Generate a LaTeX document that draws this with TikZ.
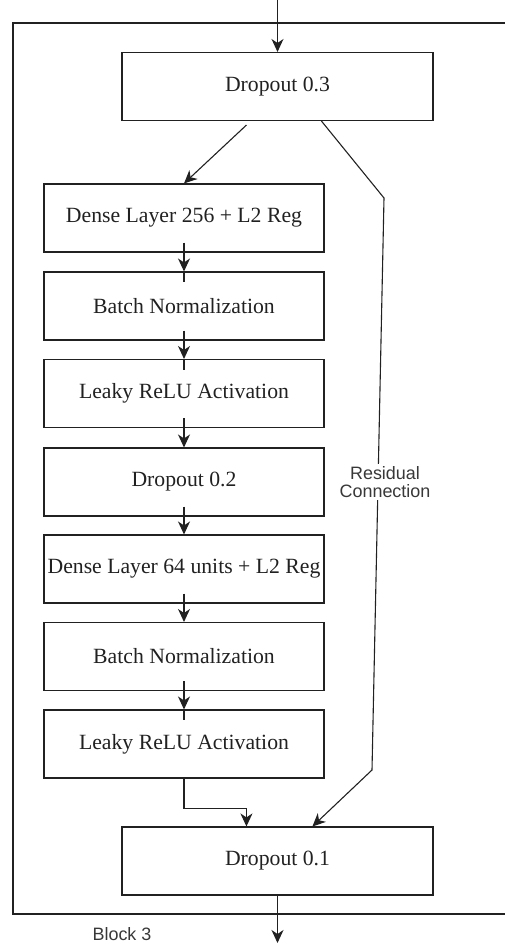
\documentclass[tikz,border=0pt]{standalone}
\usepackage{fontspec}
\setmainfont{Liberation Serif}
\newfontfamily\labelfont{Liberation Sans}
\usetikzlibrary{arrows.meta,calc}
\definecolor{ink}{gray}{0.13}
\definecolor{labelink}{gray}{0.22}
\tikzset{
  layerbox/.style={draw=ink, line width=1.1bp, minimum height=68bp, inner sep=0pt,
    font=\fontsize{21.8}{25}\selectfont, text=ink},
  narrowbox/.style={layerbox, minimum width=280bp},
  widebox/.style={layerbox, minimum width=311bp},
  link/.style={draw=ink, line width=1.1bp},
  arr/.style={link, -{Stealth[length=13bp,width=12bp,inset=4bp]}},
  sidelabel/.style={font=\labelfont\fontsize{18}{20}\selectfont, text=labelink, align=center},
}
\begin{document}
\begin{tikzpicture}[x=1bp, y=-1bp]
  \useasboundingbox (0,0) rectangle (505,945);

  % block frame (open on the right)
  \draw[link] (505,23) -- (13,23) -- (13,914) -- (505,914);

  % layers
  \node[widebox]   (drop3) at (277.5,86.5) {Dropout 0.3};
  \node[narrowbox] (dense1) at (184,218)  {Dense Layer 256 + L2 Reg};
  \node[narrowbox] (bn1)    at (184,306)  {Batch Normalization};
  \node[narrowbox] (act1)   at (184,393.5){Leaky ReLU Activation};
  \node[narrowbox] (drop2)  at (184,482)  {Dropout 0.2};
  \node[narrowbox] (dense2) at (184,569)  {Dense Layer 64 units + L2 Reg};
  \node[narrowbox] (bn2)    at (184,656.5){Batch Normalization};
  \node[narrowbox] (act2)   at (184,744)  {Leaky ReLU Activation};
  \node[widebox]   (drop1)  at (277.5,861){Dropout 0.1};

  \node[sidelabel] (blk) at (122,934) {Block 3};

  % input and output
  \coordinate (in)  at (277.5,0);
  \coordinate (out) at (277.5,943);
  \draw[arr] (in) -- (drop3.north);
  \draw[arr] (drop1.south) -- (out);

  % main path
  \draw[arr] ($(drop3.south west)+(125,4)$) -- (dense1.north);
  \draw[arr] ([yshift=10bp]dense1.south) -- (bn1.north);
  \draw[link] (bn1.north) -- ++(0,11);
  \draw[arr] ([yshift=10bp]bn1.south) -- (act1.north);
  \draw[link] (act1.north) -- ++(0,11);
  \draw[arr] ([yshift=10bp]act1.south) -- (drop2.north);
  \draw[arr] ([yshift=10bp]drop2.south) -- (dense2.north);
  \draw[arr] ([yshift=10bp]dense2.south) -- (bn2.north);
  \draw[arr] ([yshift=10bp]bn2.south) -- (act2.north);
  \draw[link] (act2.north) -- ++(0,11);
  \draw[arr] (act2.south) -- ++(0,30) -| ($(drop1.north west)+(125,0)$);

  % residual connection
  \coordinate (r1) at (384,198);
  \coordinate (r2) at (372,770);
  \draw[arr] ($(drop3.south west)+(200,0)$) -- (r1) -- (r2) -- ($(drop1.north west)+(191,0)$);
  \node[sidelabel, fill=white, inner sep=2bp] (res) at (385,482) {Residual\\[-2bp]Connection};
\end{tikzpicture}
\end{document}
